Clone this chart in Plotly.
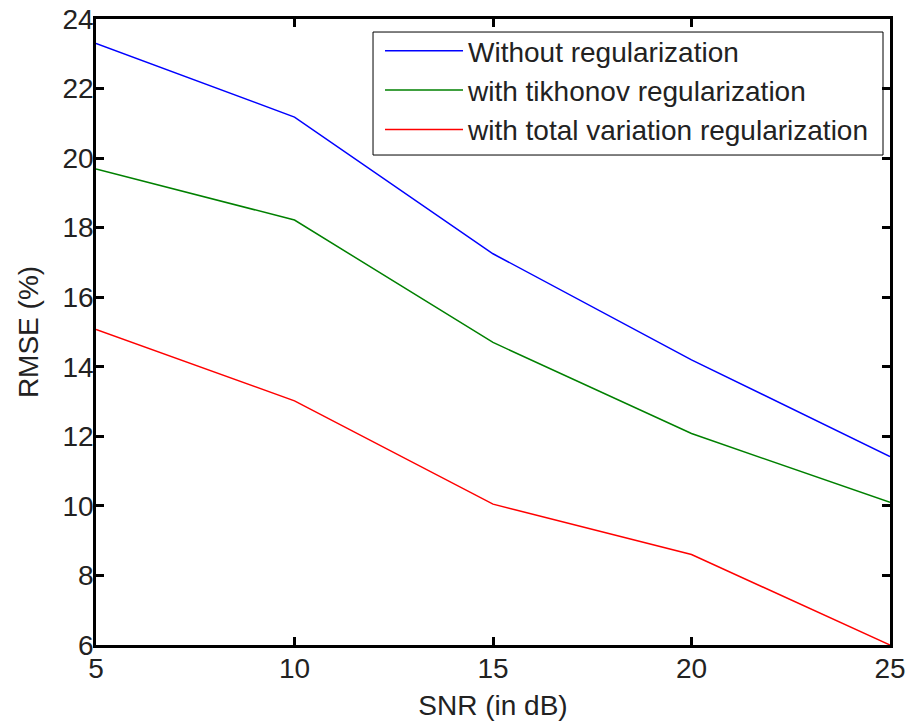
import plotly.graph_objects as go

snr = [5, 10, 15, 20, 25]
without_reg = [23.3, 21.18, 17.25, 14.2, 11.42]
tikhonov_reg = [19.69, 18.22, 14.7, 12.08, 10.1]
tv_reg = [15.07, 13.02, 10.05, 8.6, 6.0]

names = ["Without regularization", "with tikhonov regularization",
         "with total variation regularization"]
colors = ["#0000ff", "#008000", "#ff0000"]
series = [without_reg, tikhonov_reg, tv_reg]

x_ticks = [5, 10, 15, 20, 25]
y_ticks = [6, 8, 10, 12, 14, 16, 18, 20, 22, 24]

font = "Liberation Sans, Arial, sans-serif"
fsize = 28

fig = go.Figure()
for i, (nm, col, ys) in enumerate(zip(names, colors, series)):
    fig.add_trace(go.Scatter(x=snr, y=ys, mode="lines", name=nm,
                             legendgroup=str(i),
                             line=dict(color=col, width=1.5)))

axis_common = dict(showline=True, linecolor="black", linewidth=2.5, mirror="ticks",
                   ticks="inside", ticklen=8, tickwidth=2.5, tickcolor="black",
                   showgrid=False, zeroline=False, automargin=False,
                   ticklabeloverflow="allow",
                   tickfont=dict(family=font, size=fsize, color="#222"))

# legend frame (decoration, paper coordinates)
fig.add_shape(type="rect", xref="paper", yref="paper",
              x0=0.3489, x1=0.9912, y0=0.7827, y1=0.9792,
              line=dict(color="black", width=1), fillcolor="white", layer="below")

fig.update_layout(
    width=911, height=725,
    margin=dict(l=96, r=21, t=19, b=80),
    paper_bgcolor="white", plot_bgcolor="white",
    font=dict(family=font, size=fsize, color="#222"),
    xaxis=dict(range=[5, 25], tickvals=x_ticks, ticklabelstandoff=-3,
               title=dict(text="SNR (in dB)", font=dict(family=font, size=fsize), standoff=13),
               **axis_common),
    yaxis=dict(range=[6, 24], tickvals=y_ticks, ticklabelstandoff=-6,
               title=dict(text="RMSE (%)", font=dict(family=font, size=fsize), standoff=16),
               **axis_common),
    legend=dict(x=0.3577, y=0.9888, xanchor="left", yanchor="top",
                bgcolor="rgba(0,0,0,0)", borderwidth=0,
                font=dict(family=font, size=fsize, color="#222"),
                itemwidth=78, tracegroupgap=0, traceorder="grouped"),
    showlegend=True,
)

fig.write_html("out.html", config={"displayModeBar": False},
               post_script="document.body.style.margin='0';document.body.style.overflow='hidden';")
